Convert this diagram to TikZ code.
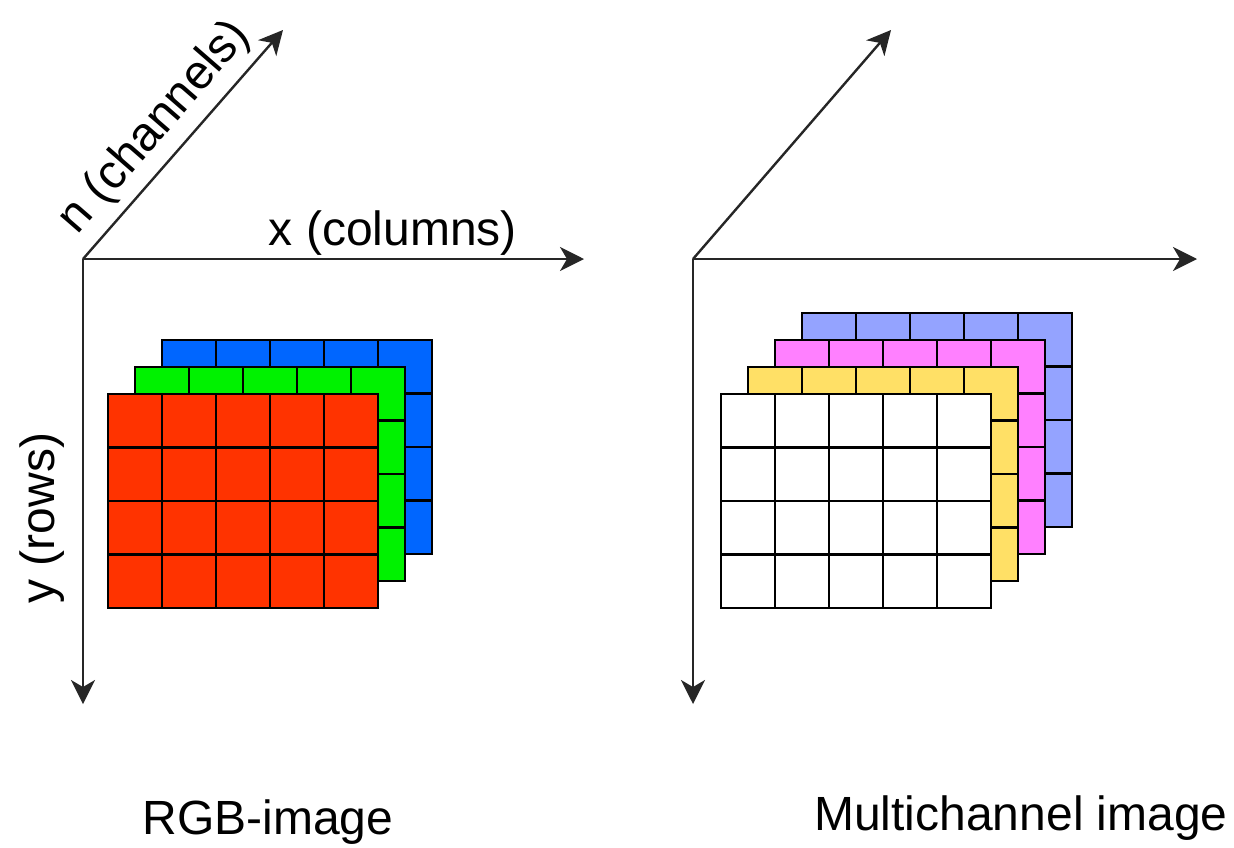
\documentclass[tikz,border=0pt]{standalone}
\usepackage{fontspec}
\setmainfont{Liberation Sans}
\usepackage{tikz}
\usetikzlibrary{arrows.meta}

\definecolor{rgbred}{HTML}{FF3300}
\definecolor{rgbgreen}{HTML}{00F200}
\definecolor{rgbblue}{HTML}{0066FF}
\definecolor{chlavender}{HTML}{94A3FF}
\definecolor{chpink}{HTML}{FF80FF}
\definecolor{chyellow}{HTML}{FFE066}

% one channel: 5 columns x 4 rows, top-left corner (#1,#2), fill #3
\newcommand{\channelgrid}[3]{%
  \filldraw[gridline,fill=#3] (#1,#2) rectangle ++(270,214);
  \foreach \i in {1,...,4} \draw[gridline] ({#1+\i*54},#2) -- ++(0,214);
  \foreach \j in {1,...,3} \draw[gridline] (#1,{#2+\j*53.5}) -- ++(270,0);
}

\begin{document}
\begin{tikzpicture}[x=0.5pt,y=-0.5pt,
  axis/.style={line width=1.2pt,draw=black!85,-{Stealth[length=12pt,width=12pt,inset=3.5pt]}},
  gridline/.style={line width=1.4pt,draw=black},
  lbl/.style={font=\fontsize{24}{28}\selectfont,inner sep=0pt}]
\useasboundingbox (0,0) rectangle (1234,847);

% axes, RGB image
\coordinate (oL) at (83,259);
\coordinate (xL) at (584,259);
\coordinate (yL) at (83,704);
\coordinate (nL) at (283,30);
\draw[axis] (oL) -- (xL);
\draw[axis] (oL) -- (yL);
\draw[axis] (oL) -- (nL);

% axes, multichannel image
\coordinate (oR) at (693,259);
\coordinate (xR) at (1197,259);
\coordinate (yR) at (693,704);
\coordinate (nR) at (891,30);
\draw[axis] (oR) -- (xR);
\draw[axis] (oR) -- (yR);
\draw[axis] (oR) -- (nR);

% channel stacks, back to front
\channelgrid{162}{340}{rgbblue}
\channelgrid{135}{367}{rgbgreen}
\channelgrid{108}{394}{rgbred}

\channelgrid{802}{313}{chlavender}
\channelgrid{775}{340}{chpink}
\channelgrid{748}{367}{chyellow}
\channelgrid{721}{394}{white}

\node[lbl,anchor=base] (xlabel) at (393,245) {x (columns)};
\node[lbl,anchor=base,rotate=90] (ylabel) at (54,518) {y (rows)};
\node[lbl,rotate=49] (nlabel) at (155,128) {n (channels)};
\node[lbl,anchor=base] (rgbcap) at (268,834) {RGB-image};
\node[lbl,anchor=base] (multicap) at (1021,830) {Multichannel image};
\end{tikzpicture}
\end{document}
